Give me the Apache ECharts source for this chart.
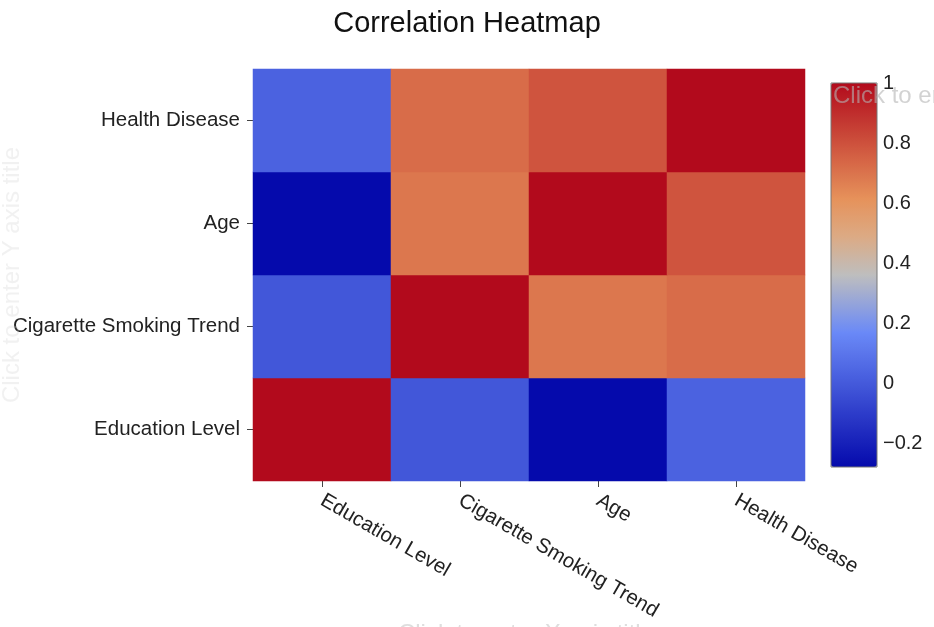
<!DOCTYPE html>
<html>
<head>
<meta charset="utf-8">
<script src="https://cdn.jsdelivr.net/npm/echarts@6/dist/echarts.min.js"></script>
<style>html,body{margin:0;padding:0;background:#fff}#c{width:934px;height:627px}</style>
</head>
<body>
<div id="c"></div>
<script>
var categories = ['Education Level', 'Cigarette Smoking Trend', 'Age', 'Health Disease'];
var rowEducation = [1.00, -0.01, -0.28, 0.03];
var rowSmoking   = [-0.01, 1.00, 0.69, 0.72];
var rowAge       = [-0.28, 0.69, 1.00, 0.79];
var rowHealth    = [0.03, 0.72, 0.79, 1.00];
var colorbarTicks = [-0.2, 0, 0.2, 0.4, 0.6, 0.8, 1];
var zMin = -0.28, zMax = 1;

var rows = [rowEducation, rowSmoking, rowAge, rowHealth];
var data = [];
for (var y = 0; y < rows.length; y++) {
  for (var x = 0; x < rows[y].length; x++) data.push([x, y, rows[y][x]]);
}

// Colour scale (piecewise linear), sampled evenly for visualMap
var stops = [[0,[5,10,172]],[0.35,[106,137,247]],[0.5,[190,190,190]],[0.6,[220,170,132]],[0.7,[230,145,90]],[1,[178,10,28]]];
function sample(t){
  for (var i=0;i<stops.length-1;i++){
    var a=stops[i], b=stops[i+1];
    if (t>=a[0]-1e-9 && t<=b[0]+1e-9){
      var f=(t-a[0])/(b[0]-a[0]);
      return 'rgb('+[0,1,2].map(function(k){return Math.round(a[1][k]+(b[1][k]-a[1][k])*f);}).join(',')+')';
    }
  }
  return 'rgb(178,10,28)';
}
var colors = [];
for (var i=0;i<=20;i++) colors.push(sample(i/20));

var font = '"Liberation Sans", Arial, sans-serif';
var txt = '#222';
var ph = 'rgba(180,180,180,0.6)';

var chart = echarts.init(document.getElementById('c'));
chart.setOption({
  backgroundColor: '#fff',
  animation: false,
  textStyle: {fontFamily: font},
  title: {
    text: 'Correlation Heatmap', left: 'center', top: 4,
    textStyle: {fontSize: 29, fontWeight: 'normal', color: '#111', fontFamily: font}
  },
  grid: [
    {left: 253, top: 69, width: 552, height: 412},
    {left: 831, top: 83, width: 46, height: 384, show: true, borderColor: '#777', borderWidth: 1, backgroundColor: 'transparent', z: 10}
  ],
  xAxis: [
    {type: 'category', data: categories, gridIndex: 0,
     axisLine: {show: false},
     axisTick: {show: true, alignWithLabel: true, length: 6, lineStyle: {color: '#444'}},
     axisLabel: {rotate: -30, margin: 18, fontSize: 20.5, color: txt, fontFamily: font},
     splitLine: {show: false}},
    {type: 'value', gridIndex: 1, show: false}
  ],
  yAxis: [
    {type: 'category', data: categories, gridIndex: 0,
     axisLine: {show: false},
     axisTick: {show: true, alignWithLabel: true, length: 6, lineStyle: {color: '#444'}},
     axisLabel: {margin: 13, fontSize: 20.5, color: txt, fontFamily: font, padding: [4, 0, 0, 0]},
     splitLine: {show: false}},
    {type: 'value', gridIndex: 1, position: 'right', min: zMin, max: zMax,
     axisLine: {show: false}, axisTick: {show: false}, splitLine: {show: false},
     axisLabel: {customValues: colorbarTicks, margin: 6, fontSize: 20, color: txt, fontFamily: font,
       formatter: function(v){ return String(Math.round(v*10)/10).replace('-', '\u2212'); }}}
  ],
  visualMap: {
    type: 'continuous', min: zMin, max: zMax, dimension: 2, seriesIndex: 0,
    left: 831, top: 83, itemWidth: 46, itemHeight: 384, padding: 0,
    calculable: false, showLabel: false, text: ['', ''],
    inRange: {color: colors}
  },
  series: [{
    type: 'heatmap', xAxisIndex: 0, yAxisIndex: 0, data: data,
    emphasis: {disabled: true}, itemStyle: {borderWidth: 0}
  }],
  graphic: [
    {type: 'text', left: 833, top: 84, z: 100, style: {text: 'Click to enter Colorbar title', fontSize: 24, fontFamily: font, fill: ph}},
    {type: 'text', x: 12, y: 275, rotation: Math.PI/2, z: 100, style: {text: 'Click to enter Y axis title', fontSize: 24, fontFamily: font, fill: 'rgba(210,210,210,0.3)', align: 'center', verticalAlign: 'middle'}},
    {type: 'text', x: 526, y: 634, z: 100, style: {text: 'Click to enter X axis title', fontSize: 24, fontFamily: font, fill: 'rgba(200,200,200,0.6)', align: 'center', verticalAlign: 'middle'}}
  ]
});
</script>
</body>
</html>
